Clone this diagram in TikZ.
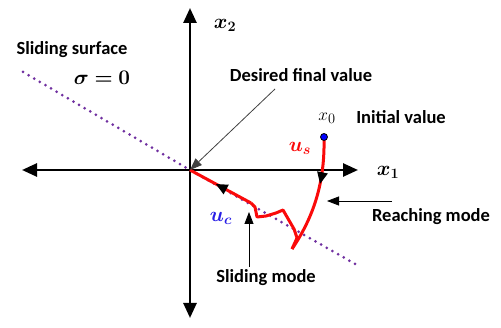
\documentclass[tikz,border=0pt]{standalone}
\usepackage{amsmath,amssymb,bm}
\usepackage{fontspec}
\setmainfont{Carlito}
\usepackage{xcolor}
\usetikzlibrary{arrows.meta,positioning,decorations.markings}
\definecolor{traj}{RGB}{250,10,10}
\definecolor{surf}{RGB}{112,48,160}
\definecolor{ucol}{RGB}{40,30,230}

\begin{document}
\begin{tikzpicture}[
    x=1pt,y=-1pt,
    axis/.style={line width=2.6pt, {Triangle[length=15pt,width=13pt]}-{Triangle[length=15pt,width=13pt]}},
    pointer/.style={-{Triangle[length=12pt,width=9pt]}, line width=0.8pt},
    label/.style={font=\fontsize{18.5}{21}\selectfont\bfseries, inner sep=1pt},
    mlabel/.style={font=\fontsize{21}{23}\selectfont, inner sep=1pt},
    path/.style={traj, line width=3pt, line join=round},
    midarrow/.style={postaction={decorate, decoration={markings,
        mark=at position #1 with {\arrow[black]{Triangle[length=12pt,width=10pt]}}}}}
]
\useasboundingbox (0,0) rectangle (501,328);

% Axes
\coordinate (O) at (190,170);
\coordinate (xl) at (22,170);
\coordinate (xr) at (358,170);
\coordinate (yt) at (190,8);
\coordinate (yb) at (190,318);
\draw[axis] (xl) -- (xr);
\draw[axis] (yb) -- (yt);
\node[mlabel] (lx1) at (388,172) {$\bm{x_1}$};
\node[mlabel] (lx2) at (225,25) {$\bm{x_2}$};

% Sliding surface
\coordinate (s1) at (23,72);
\coordinate (s2) at (357,265);
\draw[surf, line width=3pt, dash pattern=on 0pt off 6.5pt, line cap=round] (s1) -- (O) -- (s2);
\node[label] (surface) at (72,50) {Sliding surface};
\node[mlabel] (sigma) at (102,78) {$\bm{\sigma=0}$};

% Trajectory
\coordinate (x0) at (324,137);
\coordinate (tip) at (292,249);
\coordinate (peak) at (283,210);
\coordinate (dip) at (251,203);
\draw[path, midarrow=0.4] (x0) .. controls (325,180) and (315,215) .. (tip);
\draw[path] (tip) -- (297,238) -- (294,229) -- (peak) -- (276,213)
    -- (266,216) -- (257,217) -- (255,207) -- (dip);
\draw[path, midarrow=0.58] (dip) -- (O);
\filldraw[fill=blue, draw=black, line width=0.8pt] (x0) circle (3.5pt);
\node[mlabel, font=\fontsize{19}{21}\selectfont] (lx0) at (327,118) {$x_0$};
\node[label] (init) at (401,117) {Initial value};
\node[mlabel, text=traj] (lus) at (300,148) {$\bm{u_s}$};
\node[mlabel, text=ucol] (luc) at (221,218) {$\bm{u_c}$};

% Annotations
\node[label] (desired) at (301,75) {Desired final value};
\coordinate (dstart) at (275,89);
\draw[pointer, black!75] (dstart) -- (O);
\node[label] (reach) at (431,217) {Reaching mode};
\coordinate (rstart) at (392,201);
\coordinate (rend) at (327,201);
\draw[pointer] (rstart) -- (rend);
\node[label] (slide) at (266,278) {Sliding mode};
\coordinate (sstart) at (249,267);
\coordinate (send) at (249,212);
\draw[pointer] (sstart) -- (send);
\end{tikzpicture}
\end{document}
